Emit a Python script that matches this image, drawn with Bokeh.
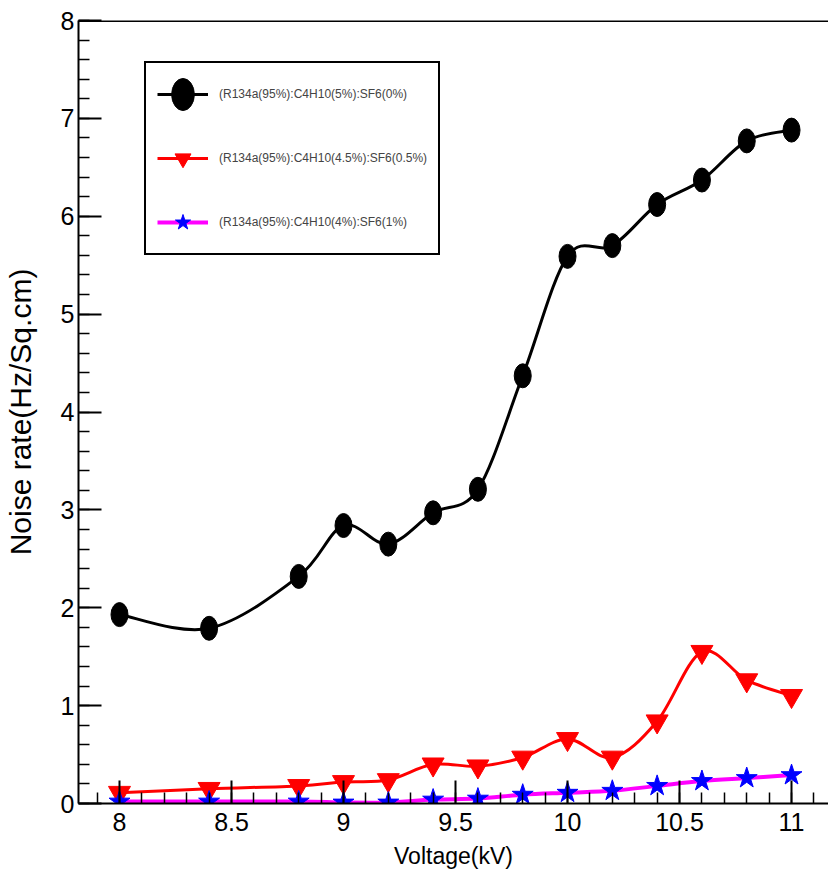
import numpy as np
from bokeh.plotting import figure
from bokeh.models import Range1d, FixedTicker, Legend, LegendItem, Span
from bokeh.embed import file_html
from bokeh.resources import INLINE

# ---- data ----
voltage = [8.0, 8.4, 8.8, 9.0, 9.2, 9.4, 9.6, 9.8, 10.0, 10.2, 10.4, 10.6, 10.8, 11.0]
rate_sf6_0 = [1.93, 1.79, 2.32, 2.84, 2.65, 2.97, 3.21, 4.37, 5.59, 5.70, 6.12, 6.37, 6.77, 6.88]
rate_sf6_05 = [0.11, 0.15, 0.18, 0.22, 0.24, 0.40, 0.38, 0.47, 0.66, 0.47, 0.84, 1.55, 1.26, 1.10]
rate_sf6_1 = [0.02, 0.02, 0.02, 0.01, 0.01, 0.04, 0.05, 0.09, 0.11, 0.13, 0.18, 0.23, 0.26, 0.29]
series_labels = [
    "(R134a(95%):C4H10(5%):SF6(0%)",
    "(R134a(95%):C4H10(4.5%):SF6(0.5%)",
    "(R134a(95%):C4H10(4%):SF6(1%)",
]
x_ticks = [8, 8.5, 9, 9.5, 10, 10.5, 11]
x_tick_labels = ["8", "8.5", "9", "9.5", "10", "10.5", "11"]
y_ticks = [0, 1, 2, 3, 4, 5, 6, 7, 8]
y_tick_labels = ["0", "1", "2", "3", "4", "5", "6", "7", "8"]

FONT = "Liberation Sans"

p = figure(width=828, height=876, output_backend="svg", toolbar_location=None,
           x_range=Range1d(7.817, 11.165), y_range=Range1d(0, 8),
           min_border_left=77, min_border_right=0, min_border_top=20, min_border_bottom=73)
p.outline_line_color = None
p.grid.visible = False
p.background_fill_color = "white"

x_minor = [round(v, 2) for v in np.arange(7.9, 11.17, 0.1)]
y_minor = [round(v, 2) for v in np.arange(0, 8.01, 0.2)]
p.xaxis.ticker = FixedTicker(ticks=x_ticks, minor_ticks=x_minor)
p.yaxis.ticker = FixedTicker(ticks=y_ticks, minor_ticks=y_minor)
p.xaxis.major_label_overrides = {t: l for t, l in zip(x_ticks, x_tick_labels)}
p.yaxis.major_label_overrides = {t: l for t, l in zip(y_ticks, y_tick_labels)}

for ax in (p.xaxis, p.yaxis):
    ax.major_tick_in = 23
    ax.major_tick_out = 0
    ax.minor_tick_in = 11
    ax.minor_tick_out = 0
    ax.major_tick_line_width = 2
    ax.minor_tick_line_width = 1.5
    ax.major_tick_line_color = "black"
    ax.minor_tick_line_color = "black"
    ax.axis_line_width = 2
    ax.axis_line_color = "black"
    ax.major_label_text_font = FONT
    ax.major_label_text_font_size = "25px"
    ax.major_label_text_color = "black"
    ax.axis_label_text_font_style = "normal"
    ax.axis_label_text_color = "black"
    ax.axis_label_text_font = FONT

p.xaxis.major_label_standoff = 9
p.yaxis.major_label_standoff = 4
p.xaxis.axis_label = "Voltage(kV)"
p.xaxis.axis_label_text_font_size = "23px"
p.xaxis.axis_label_standoff = 9
p.yaxis.axis_label = "Noise rate(Hz/Sq.cm)"
p.yaxis.axis_label_text_font_size = "30px"
p.yaxis.axis_label_standoff = 21

p.add_layout(Span(location=8, dimension="width", line_color="black", line_width=3))


def smooth_curve(xs, ys, color, width):
    """Draw a smooth curve through the data points with cubic Bezier pieces
    (Catmull-Rom control points), as ROOT's "C" draw option does."""
    xs = np.asarray(xs, float)
    ys = np.asarray(ys, float)
    x0, y0, x1, y1 = xs[:-1], ys[:-1], xs[1:], ys[1:]
    xp = np.r_[xs[0], xs[:-2]]
    yp = np.r_[ys[0], ys[:-2]]
    xn = np.r_[xs[2:], xs[-1]]
    yn = np.r_[ys[2:], ys[-1]]
    cx0 = x0 + (x1 - xp) / 6.0
    cy0 = y0 + (y1 - yp) / 6.0
    cx1 = x1 - (xn - x0) / 6.0
    cy1 = y1 - (yn - y0) / 6.0
    return p.bezier(x0=x0, y0=y0, x1=x1, y1=y1, cx0=cx0, cy0=cy0, cx1=cx1, cy1=cy1,
                    line_color=color, line_width=width)


l0 = smooth_curve(voltage, rate_sf6_0, "black", 3)
m0 = p.ellipse(voltage, rate_sf6_0, width=17, height=24, width_units="screen",
               height_units="screen", fill_color="black", line_color="black")
l1 = smooth_curve(voltage, rate_sf6_05, "red", 3)
m1 = p.scatter(voltage, rate_sf6_05, marker="inverted_triangle", size=22,
               fill_color="red", line_color="red")
l2 = smooth_curve(voltage, rate_sf6_1, "magenta", 4)
m2 = p.scatter(voltage, rate_sf6_1, marker="star", size=22,
               fill_color="blue", line_color="blue")

legend = Legend(items=[
    LegendItem(label=series_labels[0], renderers=[l0, m0]),
    LegendItem(label=series_labels[1], renderers=[l1, m1]),
    LegendItem(label=series_labels[2], renderers=[l2, m2]),
], location=(66, 548), padding=11, spacing=24, glyph_height=40, glyph_width=51,
    label_standoff=11, label_text_font=FONT, label_text_font_size="12px",
    border_line_color="black", border_line_width=2, border_line_alpha=1.0, margin=0,
    background_fill_color="white", background_fill_alpha=1.0)
p.add_layout(legend)

open("out.html", "w").write(file_html(p, INLINE))
